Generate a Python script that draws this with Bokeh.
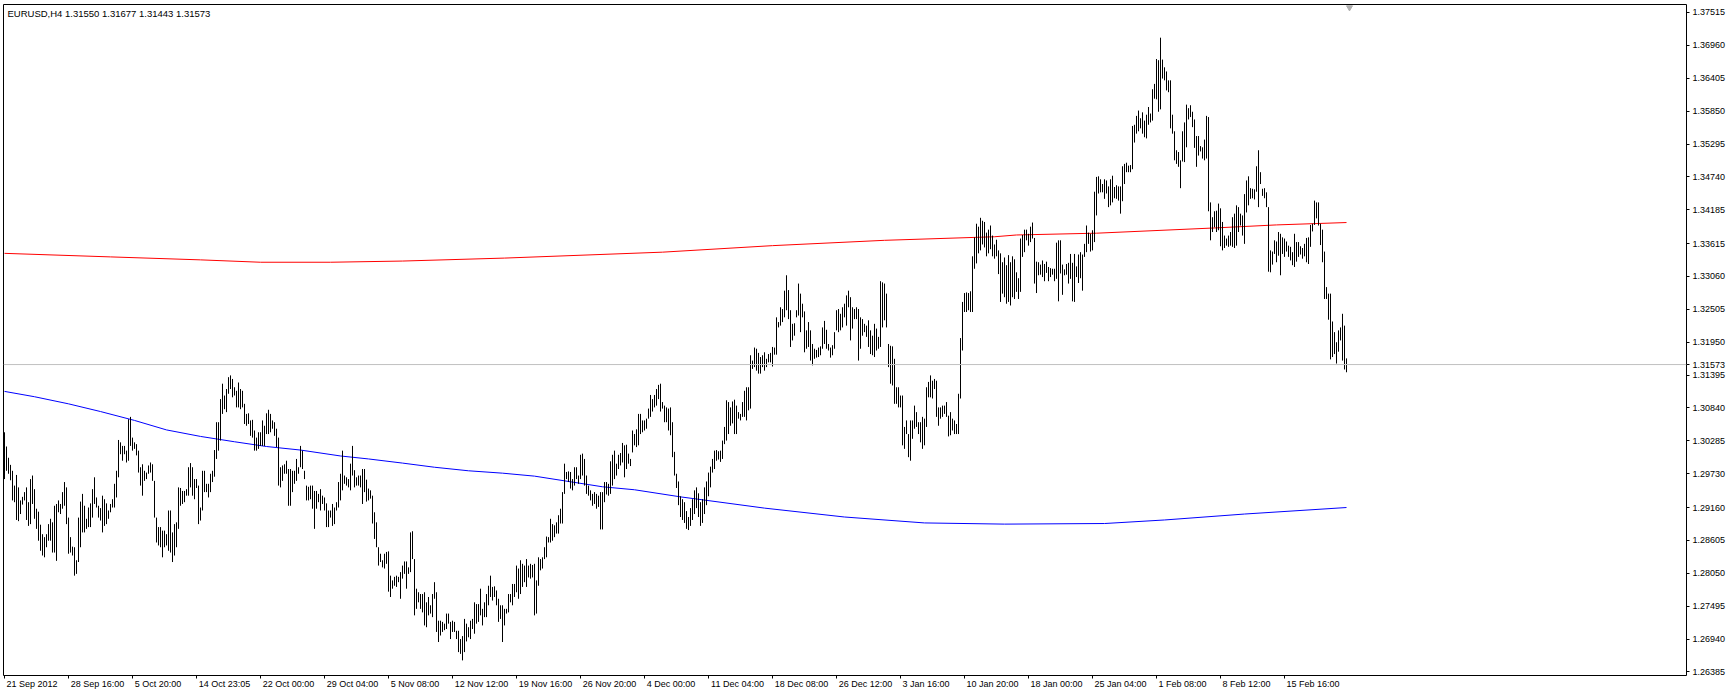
from bokeh.plotting import figure
from bokeh.models import Range1d, FixedTicker, PrintfTickFormatter, Label, Span, LinearAxis
from bokeh.embed import file_html
from bokeh.resources import INLINE

symbol_text = "EURUSD,H4  1.31550 1.31677 1.31443 1.31573"
last_price = 1.31573

high = [
    1.3043,1.3019,1.3000,1.2988,1.2978,1.2953,1.2971,1.2950,1.2928,1.2934,
    1.2942,1.2950,1.2925,1.2964,1.2970,1.2947,1.2914,1.2909,1.2887,1.2871,
    1.2866,1.2871,1.2888,1.2897,1.2891,1.2919,1.2922,1.2928,1.2922,1.2942,
    1.2959,1.2950,1.2899,1.2866,1.2850,1.2849,1.2827,1.2899,1.2926,1.2939,
    1.2919,1.2897,1.2916,1.2923,1.2947,1.2967,1.2933,1.2919,1.2915,1.2936,
    1.2930,1.2923,1.2911,1.2922,1.2930,1.2956,1.2978,1.3030,1.3026,1.3020,
    1.3020,1.3012,1.3065,1.3069,1.3034,1.3026,1.3023,1.3012,1.2984,1.2989,
    1.2978,1.2975,1.2987,1.2992,1.2989,1.2961,1.2899,1.2883,1.2883,1.2877,
    1.2877,1.2871,1.2911,1.2911,1.2874,1.2888,1.2891,1.2950,1.2949,1.2944,
    1.2944,1.2947,1.2984,1.2991,1.2984,1.2964,1.2964,1.2953,1.2916,1.2978,
    1.2978,1.2956,1.2956,1.2973,1.2978,1.3013,1.3060,1.3060,1.3099,1.3125,
    1.3105,1.3116,1.3136,1.3139,1.3133,1.3119,1.3113,1.3127,1.3116,1.3113,
    1.3091,1.3074,1.3075,1.3063,1.3064,1.3046,1.3034,1.3043,1.3043,1.3063,
    1.3054,1.3075,1.3081,1.3074,1.3063,1.3060,1.3049,1.3034,1.2984,1.2987,
    1.2989,1.2995,1.2981,1.2981,1.2978,1.2978,1.2998,1.2984,1.3020,1.3012,
    1.2978,1.2953,1.2951,1.2953,1.2953,1.2944,1.2944,1.2939,1.2947,1.2936,
    1.2933,1.2923,1.2911,1.2911,1.2922,1.2916,1.2925,1.2959,
    1.2973,1.3012,1.2970,1.2967,1.2964,1.2990,1.3020,1.2979,1.2967,1.2970,
    1.2970,1.2981,1.2981,1.2963,1.2948,1.2945,1.2936,1.2908,1.2891,1.2849,
    1.2838,1.2827,1.2838,1.2841,1.2842,1.2801,1.2793,1.2799,1.2801,1.2799,
    1.2807,1.2818,1.2825,1.2825,1.2815,1.2874,1.2876,1.2829,1.2779,1.2773,
    1.2770,1.2770,1.2773,1.2756,1.2765,1.2751,1.2770,1.2790,1.2773,1.2725,
    1.2725,1.2723,1.2720,1.2737,1.2737,1.2723,1.2725,1.2723,1.2708,1.2708,
    1.2694,1.2699,1.2728,1.2720,1.2714,1.2725,1.2728,1.2756,1.2753,1.2753,
    1.2779,1.2745,1.2756,1.2770,1.2784,1.2801,1.2782,1.2783,1.2776,1.2762,
    1.2751,1.2751,1.2745,1.2745,1.2770,1.2770,1.2787,1.2787,1.2818,1.2813,
    1.2827,1.2821,1.2818,1.2829,1.2818,1.2821,1.2819,1.2821,1.2793,1.2832,
    1.2829,1.2832,1.2849,1.2867,1.2866,1.2897,1.2888,1.2886,1.2891,1.2903,
    1.2914,1.2942,1.2990,1.2976,1.2977,1.2976,1.2964,1.2984,1.2984,1.2970,
    1.3005,1.3007,1.2998,1.2970,1.2953,1.2945,1.2939,1.2942,1.2939,1.2936,
    1.2942,1.2942,1.2959,1.2959,1.2956,1.2994,1.3005,1.3012,1.2990,1.3005,
    1.3008,1.3025,1.3021,1.3022,1.3007,1.2998,1.3046,1.3040,1.3048,1.3074,
    1.3074,1.3063,1.3063,1.3066,1.3083,1.3106,1.3099,1.3106,1.3116,1.3123,
    1.3125,1.3094,1.3088,1.3085,1.3083,1.3085,1.3060,1.3010,1.2973,
    1.2960,1.2935,1.2930,1.2925,1.2910,1.2900,1.2915,1.2930,1.2945,1.2950,
    1.2940,1.2925,1.2930,1.2950,1.2960,1.2975,1.2985,
    1.2998,1.3012,1.3013,1.3011,1.3012,1.3029,1.3052,1.3097,1.3094,1.3085,
    1.3095,1.3098,1.3088,1.3077,1.3074,1.3094,1.3113,1.3119,1.3119,1.3173,
    1.3164,1.3186,1.3184,1.3177,1.3170,1.3173,1.3178,1.3167,1.3175,1.3177,
    1.3187,1.3186,1.3237,1.3229,1.3254,1.3251,1.3282,1.3308,1.3283,1.3249,
    1.3226,1.3227,1.3249,1.3294,1.3277,1.3260,1.3247,1.3215,1.3229,1.3215,
    1.3192,1.3184,1.3182,1.3186,1.3188,1.3220,1.3231,1.3216,1.3192,1.3186,
    1.3190,1.3212,1.3249,1.3251,1.3243,1.3254,1.3260,1.3274,1.3282,1.3271,
    1.3254,1.3251,1.3254,1.3251,1.3237,1.3234,1.3226,1.3223,1.3232,1.3215,
    1.3206,1.3226,1.3218,1.3204,1.3298,1.3296,1.3294,1.3277,1.3192,1.3189,
    1.3188,1.3167,1.3119,1.3119,1.3105,1.3105,1.3052,1.3063,1.3040,1.3063,
    1.3063,1.3088,1.3077,1.3060,1.3060,1.3069,1.3066,1.3119,1.3128,1.3139,
    1.3130,1.3133,1.3130,1.3085,1.3085,1.3088,1.3088,1.3094,1.3071,1.3077,
    1.3066,1.3063,1.3057,1.3108,1.3202,1.3263,1.3278,1.3279,1.3278,1.3281,1.3340,
    1.3372,1.3395,1.3390,1.3405,1.3400,1.3398,1.3380,1.3385,1.3392,1.3375,
    1.3360,1.3368,1.3350,1.3345,1.3330,1.3338,1.3325,1.3342,1.3330,1.3340,1.3335,
    1.3313,1.3303,1.3370,1.3376,1.3385,1.3385,1.3378,1.3390,1.3397,1.3371,
    1.3331,1.3330,1.3326,1.3333,1.3327,1.3331,1.3322,1.3320,1.3319,1.3319,
    1.3363,1.3367,1.3367,1.3326,1.3318,1.3327,1.3329,1.3344,1.3329,1.3344,
    1.3323,1.3343,1.3347,1.3343,1.3361,1.3392,1.3380,1.3378,1.3384,1.3449,
    1.3474,1.3475,1.3470,1.3462,1.3470,1.3468,1.3458,1.3470,1.3476,1.3457,
    1.3460,1.3458,1.3458,1.3492,1.3496,1.3498,1.3493,1.3494,1.3560,1.3562,
    1.3577,1.3586,1.3573,1.3583,1.3569,1.3579,1.3592,1.3581,1.3622,1.3631,
    1.3673,1.3671,1.3709,1.3672,1.3659,1.3652,1.3637,1.3637,1.3579,1.3551,
    1.3519,1.3516,1.3502,1.3551,1.3566,1.3596,1.3590,1.3595,1.3584,1.3571,
    1.3543,1.3543,1.3526,1.3524,1.3537,1.3577,1.3575,1.3431,1.3406,1.3416,
    1.3417,1.3429,1.3421,1.3398,1.3375,1.3370,1.3375,1.3381,1.3406,1.3412,
    1.3426,1.3423,1.3412,1.3409,1.3445,1.3468,1.3475,1.3455,1.3454,1.3453,
    1.3492,1.3519,1.3482,1.3454,1.3455,1.3448,1.3423,1.3350,1.3348,1.3367,
    1.3365,1.3381,1.3378,1.3372,1.3370,1.3365,1.3358,1.3356,1.3347,1.3378,
    1.3364,1.3364,1.3357,1.3354,1.3361,1.3371,1.3372,1.3393,1.3395,1.3434,
    1.3431,1.3431,1.3395,1.3385,1.3348,1.3288,1.3277,1.3277,1.3230,1.3212,
    1.3195,1.3215,1.3220,1.3243,1.3223,1.31677,
]

low = [
    1.2964,1.2978,1.2973,1.2962,1.2928,1.2925,1.2895,1.2893,1.2905,1.2921,
    1.2928,1.2895,1.2885,1.2888,1.2922,1.2897,1.2880,1.2860,1.2843,1.2835,
    1.2832,1.2849,1.2860,1.2860,1.2840,1.2840,1.2826,1.2908,1.2905,1.2914,
    1.2919,1.2888,1.2838,1.2840,1.2835,1.2801,1.2804,1.2824,1.2849,1.2874,
    1.2874,1.2880,1.2883,1.2883,1.2899,1.2922,1.2916,1.2899,1.2894,1.2874,
    1.2885,1.2888,1.2897,1.2908,1.2916,1.2916,1.2933,1.2967,1.3006,1.2995,
    1.3006,1.2992,1.2995,1.3020,1.3012,1.3015,1.3004,1.2975,1.2953,1.2936,
    1.2961,1.2964,1.2973,1.2975,1.2961,1.2899,1.2857,1.2852,1.2849,1.2832,
    1.2849,1.2852,1.2843,1.2840,1.2824,1.2835,1.2849,1.2880,1.2919,1.2922,
    1.2925,1.2936,1.2936,1.2950,1.2936,1.2930,1.2949,1.2888,1.2894,1.2911,
    1.2942,1.2942,1.2933,1.2942,1.2959,1.2968,1.2998,1.3012,1.3029,1.3074,
    1.3082,1.3077,1.3108,1.3116,1.3102,1.3105,1.3085,1.3085,1.3082,1.3085,
    1.3057,1.3054,1.3057,1.3037,1.3034,1.3012,1.3012,1.3015,1.3020,1.3020,
    1.3020,1.3040,1.3040,1.3043,1.3049,1.3037,1.3018,1.2953,1.2950,1.2961,
    1.2973,1.2973,1.2919,1.2919,1.2942,1.2956,1.2961,1.2973,1.2984,1.2981,
    1.2964,1.2928,1.2928,1.2930,1.2914,1.2880,1.2914,1.2925,1.2911,1.2922,
    1.2911,1.2883,1.2883,1.2899,1.2885,1.2888,1.2911,1.2916,
    1.2928,1.2945,1.2956,1.2953,1.2950,1.2945,1.2970,1.2950,1.2953,1.2953,
    1.2950,1.2922,1.2942,1.2926,1.2928,1.2931,1.2889,1.2863,1.2849,1.2818,
    1.2824,1.2815,1.2813,1.2821,1.2774,1.2765,1.2779,1.2784,1.2782,1.2790,
    1.2762,1.2796,1.2804,1.2779,1.2804,1.2807,1.2829,1.2734,1.2745,1.2756,
    1.2745,1.2739,1.2717,1.2714,1.2734,1.2737,1.2731,1.2762,1.2706,1.2689,
    1.2700,1.2706,1.2709,1.2711,1.2720,1.2694,1.2706,1.2706,1.2694,1.2672,
    1.2669,1.2658,1.2672,1.2690,1.2697,1.2694,1.2711,1.2703,1.2720,1.2723,
    1.2734,1.2717,1.2731,1.2731,1.2751,1.2765,1.2759,1.2765,1.2751,1.2723,
    1.2728,1.2689,1.2717,1.2737,1.2739,1.2756,1.2751,1.2765,1.2773,1.2762,
    1.2770,1.2782,1.2790,1.2782,1.2798,1.2796,1.2798,1.2734,1.2737,1.2784,
    1.2810,1.2813,1.2829,1.2832,1.2857,1.2857,1.2860,1.2866,1.2872,1.2872,
    1.2889,1.2889,1.2939,1.2964,1.2959,1.2948,1.2945,1.2953,1.2964,1.2956,
    1.2964,1.2970,1.2953,1.2939,1.2936,1.2928,1.2919,1.2922,1.2914,1.2917,
    1.2879,1.2879,1.2925,1.2938,1.2936,1.2939,1.2953,1.2964,1.2970,1.2981,
    1.2987,1.2992,1.2967,1.2981,1.2990,1.2986,1.3009,1.3021,1.3018,1.3021,
    1.3040,1.3043,1.3046,1.3049,1.3066,1.3069,1.3078,1.3085,1.3088,1.3099,
    1.3078,1.3083,1.3060,1.3060,1.3046,1.3038,1.3001,1.2970,1.2949,
    1.2920,1.2900,1.2895,1.2890,1.2880,1.2878,1.2885,1.2895,1.2905,1.2915,
    1.2900,1.2885,1.2890,1.2905,1.2920,1.2935,1.2950,
    1.2975,1.2981,1.2995,1.2997,1.2993,1.2998,1.3023,1.3029,1.3040,1.3054,
    1.3058,1.3040,1.3040,1.3066,1.3063,1.3069,1.3069,1.3063,1.3080,1.3083,
    1.3150,1.3153,1.3147,1.3142,1.3142,1.3153,1.3147,1.3153,1.3161,1.3161,
    1.3154,1.3174,1.3174,1.3220,1.3223,1.3229,1.3237,1.3249,1.3234,1.3187,
    1.3198,1.3206,1.3237,1.3240,1.3212,1.3237,1.3178,1.3184,1.3187,1.3164,
    1.3156,1.3167,1.3169,1.3170,1.3173,1.3184,1.3192,1.3184,1.3181,1.3169,
    1.3173,1.3184,1.3215,1.3212,1.3215,1.3220,1.3237,1.3223,1.3254,1.3198,
    1.3218,1.3234,1.3234,1.3164,1.3184,1.3206,1.3212,1.3204,1.3187,1.3175,
    1.3173,1.3170,1.3181,1.3184,1.3187,1.3220,1.3232,1.3220,1.3153,1.3125,
    1.3122,1.3091,1.3091,1.3085,1.3085,1.3021,1.3015,1.3040,1.3001,1.2995,
    1.3032,1.3049,1.3052,1.3040,1.3026,1.3015,1.3021,1.3052,1.3102,1.3102,
    1.3100,1.3116,1.3069,1.3054,1.3066,1.3069,1.3074,1.3069,1.3036,1.3038,
    1.3046,1.3040,1.3040,1.3040,1.3100,1.3181,1.3246,1.3246,1.3249,1.3246,1.3246,
    1.3319,1.3328,1.3345,1.3350,1.3360,1.3355,1.3340,1.3345,1.3352,1.3340,
    1.3336,1.3340,1.3310,1.3263,1.3277,1.3271,1.3260,1.3263,1.3257,1.3271,1.3268,
    1.3280,1.3268,1.3280,1.3339,1.3347,1.3367,1.3358,1.3364,1.3370,1.3294,
    1.3278,1.3308,1.3309,1.3305,1.3298,1.3312,1.3298,1.3305,1.3309,1.3298,
    1.3302,1.3264,1.3311,1.3275,1.3308,1.3309,1.3294,1.3302,1.3264,1.3263,
    1.3305,1.3295,1.3303,1.3282,1.3339,1.3347,1.3361,1.3348,1.3350,1.3364,
    1.3409,1.3446,1.3448,1.3448,1.3437,1.3446,1.3423,1.3426,1.3431,1.3438,
    1.3437,1.3434,1.3412,1.3433,1.3462,1.3482,1.3482,1.3482,1.3487,1.3532,
    1.3547,1.3551,1.3556,1.3547,1.3541,1.3539,1.3562,1.3566,1.3569,1.3606,
    1.3605,1.3584,1.3588,1.3640,1.3637,1.3620,1.3617,1.3556,1.3547,1.3502,
    1.3496,1.3491,1.3455,1.3500,1.3499,1.3524,1.3571,1.3575,1.3558,1.3523,
    1.3491,1.3510,1.3517,1.3505,1.3502,1.3505,1.3416,1.3367,1.3381,1.3389,
    1.3381,1.3384,1.3357,1.3350,1.3354,1.3358,1.3356,1.3358,1.3356,1.3354,
    1.3358,1.3381,1.3392,1.3375,1.3361,1.3414,1.3426,1.3437,1.3438,1.3436,
    1.3449,1.3423,1.3462,1.3442,1.3438,1.3423,1.3314,1.3313,1.3326,1.3344,
    1.3330,1.3341,1.3308,1.3344,1.3339,1.3348,1.3339,1.3333,1.3325,1.3322,
    1.3331,1.3339,1.3343,1.3336,1.3340,1.3330,1.3327,1.3356,1.3382,1.3393,
    1.3404,1.3392,1.3359,1.3330,1.3268,1.3268,1.3233,1.3166,1.3170,1.3175,
    1.3159,1.3179,1.3198,1.3164,1.3149,1.31443,
]

time_labels = ["21 Sep 2012", "28 Sep 16:00", "5 Oct 20:00", "14 Oct 23:05", "22 Oct 00:00",
               "29 Oct 04:00", "5 Nov 08:00", "12 Nov 12:00", "19 Nov 16:00", "26 Nov 20:00",
               "4 Dec 00:00", "11 Dec 04:00", "18 Dec 08:00", "26 Dec 12:00", "3 Jan 16:00",
               "10 Jan 20:00", "18 Jan 00:00", "25 Jan 04:00", "1 Feb 08:00", "8 Feb 12:00",
               "15 Feb 16:00"]
time_label_bars = [0, 32, 64, 96, 128, 160, 192, 224, 256, 288, 320, 352, 384, 416, 448,
                   480, 512, 544, 576, 608, 640]

price_ticks = [1.37515, 1.36960, 1.36405, 1.35850, 1.35295, 1.34740, 1.34185, 1.33615,
               1.33060, 1.32505, 1.31950, 1.31395, 1.30840, 1.30285, 1.29730, 1.29160,
               1.28605, 1.28050, 1.27495, 1.26940, 1.26385]

red_ma_bars = [0, 53, 98, 128, 163, 199, 250, 329, 384, 440, 495, 506, 546, 606, 636, 671]
red_ma = [1.3345, 1.3339, 1.3334, 1.3330, 1.3330, 1.3332, 1.3337, 1.3347, 1.3358, 1.3367,
          1.3373, 1.3376, 1.3379, 1.3388, 1.3393, 1.3397]

blue_ma_bars = [0, 15, 32, 48, 65, 81, 98, 115, 131, 148, 168, 182, 199, 215, 232, 249, 265,
                282, 299, 315, 338, 380, 420, 460, 500, 550, 580, 620, 671]
blue_ma = [1.3112, 1.3103, 1.3091, 1.3078, 1.3063, 1.3047, 1.3036, 1.3027, 1.3019, 1.3013,
           1.3003, 1.2998, 1.2991, 1.2984, 1.2978, 1.2974, 1.2969, 1.2960, 1.2951, 1.2946,
           1.2934, 1.2915, 1.2900, 1.2890, 1.2888, 1.2889, 1.2895, 1.2905, 1.2916]

assert len(high) == len(low), (len(high), len(low))
n = len(high)
idx = list(range(n))

FONT = "Liberation Sans"
W, H = 1731, 696
BORDER_L, BORDER_T, BORDER_R, BORDER_B = 3, 4, 45, 21
FRAME_W = W - BORDER_L - BORDER_R
FRAME_H = H - BORDER_T - BORDER_B
y0, y1 = 1.26325, 1.37650
x0 = -0.5
x1 = x0 + FRAME_W / 2.0          # 2 px per bar, as in the terminal
px_per_bar = FRAME_W / (x1 - x0)
px_per_price = FRAME_H / (y1 - y0)

p = figure(width=W, height=H,
           x_range=Range1d(x0, x1), y_range=Range1d(y0, y1),
           output_backend="svg", toolbar_location=None,
           y_axis_location="right",
           min_border_left=BORDER_L, min_border_top=BORDER_T,
           min_border_right=BORDER_R, min_border_bottom=BORDER_B,
           background_fill_color="white", border_fill_color="white",
           outline_line_color="black", outline_line_width=1)
p.grid.visible = False

# price axis (right)
ya = p.yaxis[0]
ya.ticker = FixedTicker(ticks=price_ticks + [last_price])
ya.formatter = PrintfTickFormatter(format="%.5f")
ya.major_label_text_font = FONT
ya.major_label_text_font_size = "9px"
ya.major_label_text_color = "black"
ya.major_tick_out = 3
ya.major_tick_in = 0
ya.minor_tick_out = 0
ya.minor_tick_in = 0
ya.axis_line_color = None
ya.major_label_standoff = 3

# time axis: tick marks only
xa = p.xaxis[0]
xa.ticker = FixedTicker(ticks=time_label_bars)
xa.major_label_overrides = {b: "" for b in time_label_bars}
xa.major_label_text_font_size = "0px"
xa.major_tick_out = 3
xa.major_tick_in = 0
xa.minor_tick_out = 0
xa.minor_tick_in = 0
xa.axis_line_color = None
xa.major_label_standoff = 0

# time axis: labels, left-aligned just right of each tick (terminal style)
char_w = {"0": 556, "1": 556, "2": 556, "3": 556, "4": 556, "5": 556, "6": 556, "7": 556,
          "8": 556, "9": 556, " ": 278, ":": 278, "S": 667, "e": 556, "p": 556, "O": 778,
          "c": 500, "t": 278, "N": 722, "o": 556, "v": 500, "D": 722, "J": 500, "a": 556,
          "n": 556, "F": 611, "b": 556}
def text_w(s, size=9.0):
    return sum(char_w.get(c, 556) for c in s) * size / 1000.0

label_pos = [round((b + (2.0 + text_w(t) / 2.0) / px_per_bar) * 4) / 4
             for b, t in zip(time_label_bars, time_labels)]
lab_axis = LinearAxis(ticker=FixedTicker(ticks=label_pos),
                      major_label_overrides={pos: t for pos, t in zip(label_pos, time_labels)},
                      major_tick_out=0, major_tick_in=0, minor_tick_out=0, minor_tick_in=0,
                      axis_line_color=None, major_label_standoff=0,
                      major_label_text_font=FONT, major_label_text_font_size="9px",
                      major_label_text_color="black")
p.add_layout(lab_axis, "below")

p.add_layout(Span(location=last_price, dimension="width", line_color="#c0c0c0", line_width=1))

p.line(red_ma_bars, red_ma, line_color="#ff0000", line_width=1)
p.line(blue_ma_bars, blue_ma, line_color="#0000ff", line_width=1)
p.segment(x0=idx, y0=low, x1=idx, y1=high, line_color="black", line_width=1)

# chart-shift marker at the top, just right of the last bar
p.scatter(x=[n + 0.5], y=[y1 - 3 / px_per_price], marker="inverted_triangle", size=6,
          fill_color="#b0b0b0", line_color="#b0b0b0")

p.add_layout(Label(x=x0, y=y1 - 9 / px_per_price, x_offset=4, text=symbol_text,
                   text_font=FONT, text_font_size="9.5px", text_color="black",
                   text_baseline="middle", text_align="left"))

open("out.html", "w").write(file_html(p, INLINE))
